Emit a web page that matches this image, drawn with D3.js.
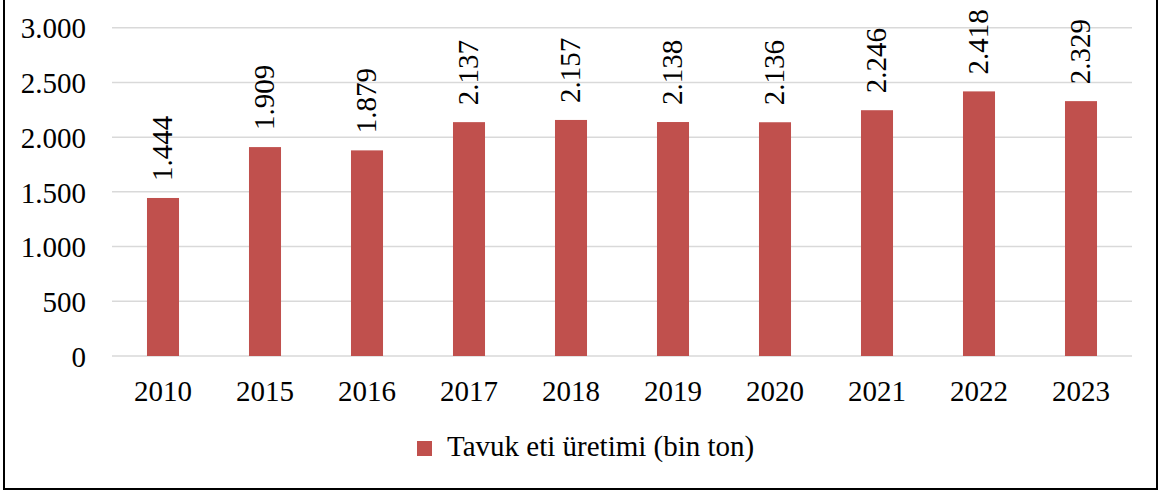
<!DOCTYPE html>
<html lang="tr">
<head>
    <meta charset="UTF-8">
    <title>Tavuk eti üretimi</title>
    <script src="https://cdn.jsdelivr.net/npm/d3@7"></script>
    <style>
        html, body {
            margin: 0;
            background: #fff;
        }
    </style>
</head>
<body>
    <div id="vis"></div>

    <script>
        // data
        var years = ["2010", "2015", "2016", "2017", "2018", "2019", "2020", "2021", "2022", "2023"];
        var production = [1444, 1909, 1879, 2137, 2157, 2138, 2136, 2246, 2418, 2329];
        var yTicks = [0, 500, 1000, 1500, 2000, 2500, 3000];
        var seriesName = "Tavuk eti üretimi (bin ton)";

        var view_width = 1161, view_height = 492;
        var barColor = "#C0504D";
        var serif = "'Liberation Serif', 'Times New Roman', Times, serif";

        // turkish number format: 1.444
        var fmt = d3.formatLocale({decimal: ",", thousands: ".", grouping: [3], currency: ["", " TL"]}).format(",d");

        var svg = d3.select("#vis")
            .append("svg")
                .attr("width", view_width)
                .attr("height", view_height)
                .style("font-family", serif)
                .style("font-size", "29px");

        // outer frame (top edge is cut off in the picture)
        svg.append("rect")
            .attr("x", 4).attr("y", -5)
            .attr("width", 1153).attr("height", 494)
            .attr("fill", "none")
            .attr("stroke", "#000")
            .attr("stroke-width", 2);

        var x = d3.scaleBand()
            .domain(years)
            .range([112, 1132])
            .paddingInner(0.686)
            .paddingOuter(0.343);

        var y = d3.scaleLinear()
            .domain([0, 3000])
            .range([356, 27.7]);

        // grid lines
        svg.append("g")
            .selectAll("line")
            .data(yTicks)
            .enter().append("line")
                .attr("x1", 112).attr("x2", 1132)
                .attr("y1", function(d) { return y(d); })
                .attr("y2", function(d) { return y(d); })
                .attr("stroke", "#d9d9d9")
                .attr("stroke-width", 1.5);

        // y axis labels
        var yAxis = d3.axisLeft(y)
            .tickValues(yTicks)
            .tickSize(0)
            .tickPadding(26)
            .tickFormat(fmt);
        svg.append("g")
            .attr("transform", "translate(112,0)")
            .call(yAxis)
            .attr("font-family", null).attr("font-size", null)
            .call(function(g) { g.select(".domain").remove(); })
            .selectAll("text")
                .attr("fill", "#000")
                .attr("dy", "0.35em");

        // bars
        svg.append("g")
            .selectAll("rect")
            .data(production)
            .enter().append("rect")
                .attr("x", function(d, i) { return x(years[i]); })
                .attr("width", x.bandwidth())
                .attr("y", function(d) { return y(d); })
                .attr("height", function(d) { return y(0) - y(d); })
                .attr("fill", barColor);

        // value labels, rotated
        svg.append("g")
            .selectAll("text")
            .data(production)
            .enter().append("text")
                .attr("transform", function(d, i) {
                    return "translate(" + (x(years[i]) + x.bandwidth() / 2) + "," + (y(d) - 17) + ") rotate(-90)";
                })
                .attr("dy", "0.32em")
                .attr("text-anchor", "start")
                .attr("fill", "#000")
                .text(function(d) { return fmt(d); });

        // x axis labels
        var xAxis = d3.axisBottom(x).tickSize(0).tickPadding(0);
        svg.append("g")
            .attr("transform", "translate(0,356)")
            .call(xAxis)
            .attr("font-family", null).attr("font-size", null)
            .call(function(g) { g.select(".domain").remove(); })
            .selectAll("text")
                .attr("fill", "#000")
                .attr("dy", null)
                .attr("y", 45);

        // legend
        var legend = svg.append("g").attr("transform", "translate(417,441)");
        legend.append("rect")
            .attr("width", 15).attr("height", 15)
            .attr("fill", barColor);
        legend.append("text")
            .attr("x", 30).attr("y", 15)
            .attr("fill", "#000")
            .text(seriesName);
    </script>
</body>
</html>
